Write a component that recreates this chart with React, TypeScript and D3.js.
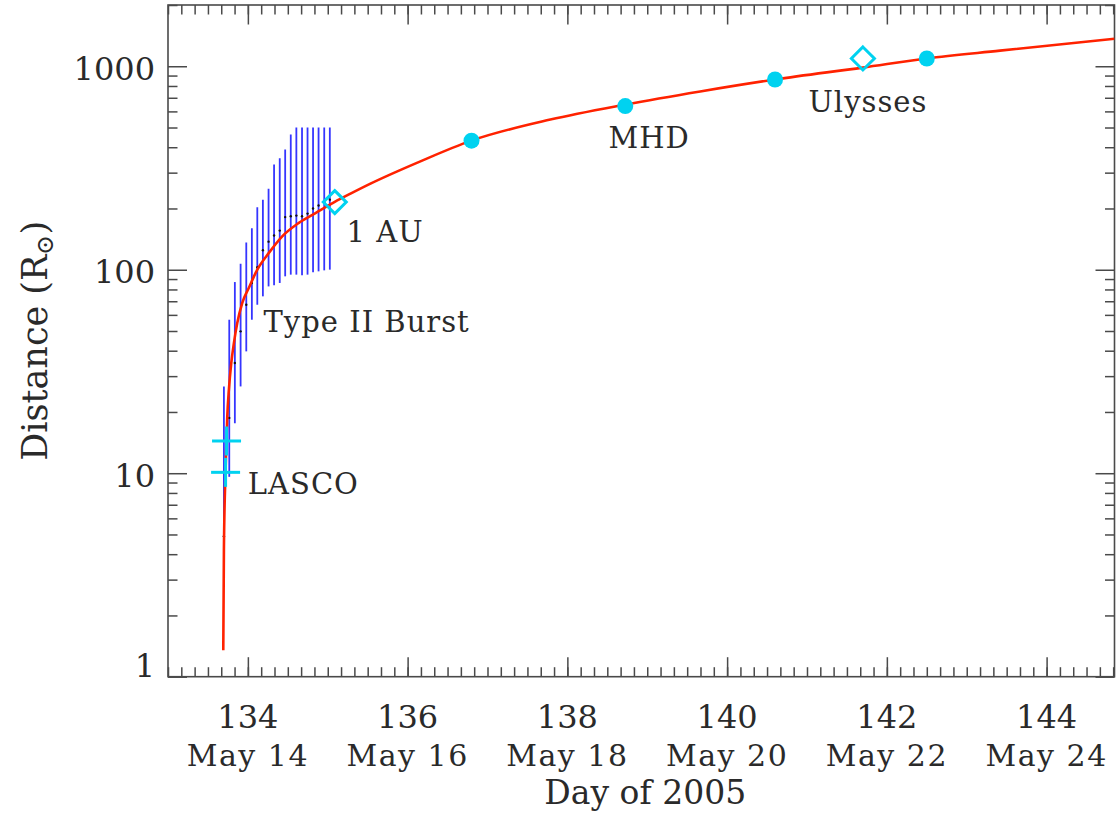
import * as d3 from "d3";
import React, { useEffect, useRef } from "react";

// fitted height-time curve (day of 2005, distance in solar radii)
const fitDays = [
  133.692, 133.7, 133.721, 133.742, 133.762, 133.792, 133.825, 133.867, 133.93,
  134.013, 134.118, 134.263, 134.43, 134.638, 134.847, 135.088, 135.285, 135.535,
  136.16, 136.798, 137.787, 138.725, 139.663, 140.601, 141.698, 142.499, 143.416,
  144.85,
];
const fitDist = [
  1.35, 4.2, 10.4, 19.0, 25.7, 34.8, 43.6, 54.7, 68.7, 81.6, 100.1, 121, 146,
  170, 190, 215.6, 236.6, 265, 341, 431, 547, 648, 752, 861, 985, 1092, 1193, 1364,
];

// type II burst: centre and error range
const burstDays = [
  133.7, 133.767, 133.837, 133.909, 133.98, 134.05, 134.118, 134.188, 134.259,
  134.328, 134.399, 134.467, 134.537, 134.607, 134.678, 134.747, 134.816, 134.885,
  134.956, 135.026,
];
const burstLow = [
  3.8, 9.6, 17.6, 26.7, 39.7, 56.8, 67.3, 74.0, 82.8, 83.8, 86.1, 92.8, 94.6,
  94.6, 93.9, 94.6, 97.1, 98.2, 99.3, 100.1,
];
const burstMid = [
  4.9, 18.7, 34.8, 49.8, 67.3, 86, 102.8, 124.6, 137.4, 147.2, 155.7, 181.4,
  183.1, 184.5, 183.1, 188.7, 199.8, 207, 214, 221,
];
const burstHigh = [
  26.7, 56.8, 87, 107, 136, 160, 203, 221, 250, 329, 353, 390, 462, 500, 500, 500,
  500, 500, 500, 500,
];

// LASCO
const lascoDays = [133.733, 133.721];
const lascoDist = [14.4, 10.1];

// 1 AU and Ulysses
const diamondDays = [135.088, 141.7];
const diamondDist = [215, 1092];

// MHD
const mhdDays = [136.8, 138.725, 140.6, 142.5];
const mhdDist = [431, 637, 861, 1092];

const xTickDays = [134, 136, 138, 140, 142, 144];
const xTickDates = ["May 14", "May 16", "May 18", "May 20", "May 22", "May 24"];
const yTickValues = [1, 10, 100, 1000];
const yTickLabels = ["1", "10", "100", "1000"];

const notes = [
  { text: "1 AU", day: 135.235, dist: 137 },
  { text: "Type II Burst", day: 134.196, dist: 49.6 },
  { text: "LASCO", day: 134.0, dist: 7.92 },
  { text: "MHD", day: 138.516, dist: 397 },
  { text: "Ulysses", day: 141.018, dist: 594 },
];

const W = 1117;
const H = 818;
const left = 168;
const right = 1114.5;
const top = 5;
const bottom = 676.7;
const FONT = "'DejaVu Serif', serif";
const CYAN = "#00d2f0";
const AXIS = "#4a4a4a";

const App: React.FC = () => {
  const svgRef = useRef<SVGSVGElement>(null);

  useEffect(() => {
    const svg = d3.select(svgRef.current);
    svg.selectAll("*").remove();

    const x = d3.scaleLinear().domain([133, 144.85]).range([left, right]);
    const y = d3.scaleLog().domain([1, 2000]).range([bottom, top]);

    svg
      .append("defs")
      .append("clipPath")
      .attr("id", "plot-clip")
      .append("rect")
      .attr("x", left)
      .attr("y", top)
      .attr("width", right - left)
      .attr("height", bottom - top);

    // ticks
    const minorX = d3.range(0, 72).map((i) => 133 + i / 6).filter((d) => d <= 144.85);
    const minorY: number[] = [];
    [1, 10, 100, 1000].forEach((dec) =>
      d3.range(2, 10).forEach((m) => {
        if (dec * m <= 2000) minorY.push(dec * m);
      })
    );

    const tickGroup = (
      axis: d3.Axis<d3.NumberValue>,
      transform: string
    ) =>
      svg
        .append("g")
        .attr("transform", transform)
        .call(axis)
        .call((g) => g.select(".domain").remove())
        .call((g) => g.selectAll("text").remove())
        .call((g) => g.selectAll("line").attr("stroke", AXIS).attr("stroke-width", 1.5));

    tickGroup(d3.axisBottom(x).tickValues(minorX).tickSize(-9.5), `translate(0,${bottom})`);
    tickGroup(d3.axisBottom(x).tickValues(xTickDays).tickSize(-19.5), `translate(0,${bottom})`);
    tickGroup(d3.axisTop(x).tickValues(minorX).tickSize(-9.5), `translate(0,${top})`);
    tickGroup(d3.axisTop(x).tickValues(xTickDays).tickSize(-19.5), `translate(0,${top})`);
    tickGroup(d3.axisLeft(y).tickValues(minorY).tickSize(-9.5), `translate(${left},0)`);
    tickGroup(d3.axisLeft(y).tickValues(yTickValues).tickSize(-19), `translate(${left},0)`);
    tickGroup(d3.axisRight(y).tickValues(minorY).tickSize(-9.5), `translate(${right},0)`);
    tickGroup(d3.axisRight(y).tickValues(yTickValues).tickSize(-19), `translate(${right},0)`);

    svg
      .append("rect")
      .attr("x", left)
      .attr("y", top)
      .attr("width", right - left)
      .attr("height", bottom - top)
      .attr("fill", "none")
      .attr("stroke", AXIS)
      .attr("stroke-width", 1.6);

    // tick labels
    const labels = svg.append("g").attr("font-family", FONT).attr("fill", "#2a2a2a");
    labels
      .selectAll(".ylab")
      .data(yTickValues)
      .join("text")
      .attr("class", "ylab")
      .attr("x", 155)
      .attr("y", (d) => Math.min(y(d) + 13.5, bottom))
      .attr("text-anchor", "end")
      .attr("font-size", 32)
      .text((_, i) => yTickLabels[i]);

    labels
      .selectAll(".xlab")
      .data(xTickDays)
      .join("text")
      .attr("class", "xlab")
      .attr("x", (d) => x(d))
      .attr("y", 727.5)
      .attr("text-anchor", "middle")
      .attr("font-size", 32)
      .text((d) => String(d));

    labels
      .selectAll(".dlab")
      .data(xTickDates)
      .join("text")
      .attr("class", "dlab")
      .attr("x", (_, i) => x(xTickDays[i]))
      .attr("y", 765.5)
      .attr("text-anchor", "middle")
      .attr("font-size", 30)
      .attr("letter-spacing", 1.5)
      .text((d) => d);

    labels
      .append("text")
      .attr("x", (left + right) / 2 + 4)
      .attr("y", 803.5)
      .attr("text-anchor", "middle")
      .attr("font-size", 33)
      .text("Day of 2005");

    const yTitle = labels
      .append("text")
      .attr("transform", `translate(47,${(top + bottom) / 2}) rotate(-90)`)
      .attr("text-anchor", "middle")
      .attr("font-size", 35);
    yTitle.append("tspan").text("Distance (R");
    yTitle.append("tspan").attr("font-size", 24).attr("dy", 6).text("\u2299");
    yTitle.append("tspan").attr("dy", -6).text(")");

    const plot = svg.append("g").attr("clip-path", "url(#plot-clip)");

    // type II burst error bars
    plot
      .append("g")
      .selectAll("line")
      .data(burstDays)
      .join("line")
      .attr("x1", (d) => x(d))
      .attr("x2", (d) => x(d))
      .attr("y1", (_, i) => y(burstLow[i]))
      .attr("y2", (_, i) => y(burstHigh[i]))
      .attr("stroke", "#3535ff")
      .attr("stroke-width", 1.8);

    plot
      .append("g")
      .selectAll("circle")
      .data(burstDays)
      .join("circle")
      .attr("cx", (d) => x(d))
      .attr("cy", (_, i) => y(burstMid[i]))
      .attr("r", 1.2)
      .attr("fill", "#111");

    // fit curve
    const line = d3
      .line<number>()
      .x((d) => x(d))
      .y((_, i) => y(fitDist[i]))
      .curve(d3.curveMonotoneX);

    plot
      .append("path")
      .attr("d", line(fitDays))
      .attr("fill", "none")
      .attr("stroke", "#ff2200")
      .attr("stroke-width", 2.6);

    // LASCO crosses
    const cross = plot.append("g").attr("stroke", CYAN).attr("stroke-width", 3);
    lascoDays.forEach((d, i) => {
      const cx = x(d);
      const cy = y(lascoDist[i]);
      cross.append("line").attr("x1", cx - 14.5).attr("x2", cx + 14.5).attr("y1", cy).attr("y2", cy);
      cross.append("line").attr("x1", cx).attr("x2", cx).attr("y1", cy - 14.5).attr("y2", cy + 14.5);
    });

    // 1 AU / Ulysses diamonds
    const diamond = d3.symbol().type(d3.symbolDiamond2).size(2 * 13 * 13);
    plot
      .append("g")
      .selectAll("path")
      .data(diamondDays)
      .join("path")
      .attr("transform", (d, i) => `translate(${x(d)},${y(diamondDist[i])})`)
      .attr("d", diamond() as string)
      .attr("fill", "none")
      .attr("stroke", CYAN)
      .attr("stroke-width", 3);

    // MHD points
    plot
      .append("g")
      .selectAll("circle")
      .data(mhdDays)
      .join("circle")
      .attr("cx", (d) => x(d))
      .attr("cy", (_, i) => y(mhdDist[i]))
      .attr("r", 8)
      .attr("fill", CYAN);

    // annotations
    svg
      .append("g")
      .attr("font-family", FONT)
      .attr("fill", "#2a2a2a")
      .attr("font-size", 29)
      .attr("letter-spacing", 1)
      .selectAll("text")
      .data(notes)
      .join("text")
      .attr("x", (d) => x(d.day))
      .attr("y", (d) => y(d.dist))
      .text((d) => d.text);
  }, []);

  return (
    <svg
      ref={svgRef}
      width={W}
      height={H}
      style={{ position: "absolute", left: 0, top: 0, background: "#fff" }}
    />
  );
};

export default App;
